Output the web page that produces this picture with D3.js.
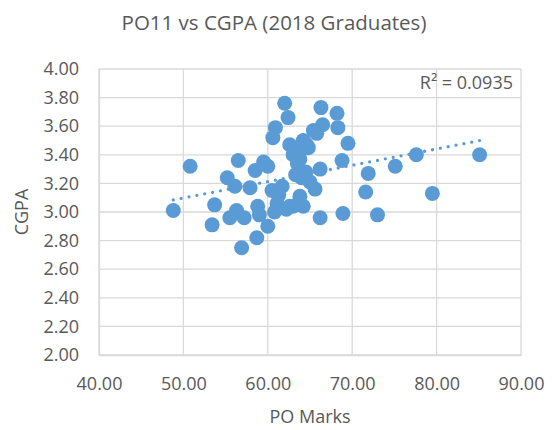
<!DOCTYPE html>
<html>
<head>
<meta charset="utf-8">
<script src="https://cdn.jsdelivr.net/npm/d3@7"></script>
<style>
  body { margin: 0; background: #fff; }
  text { font-family: "Open Sans", sans-serif; fill: #595959; }
</style>
</head>
<body>
<div id="scatter"></div>
<script>
// chart values
var poMarks = [48.8, 50.8, 53.7, 53.4, 55.2, 56.1, 56.5, 56.3, 55.5, 57.2,
  57.9, 58.5, 59.5, 60.0, 58.8, 59.0, 60.0, 58.7, 56.9, 60.5,
  61.7, 61.1, 62.6, 63.8, 64.2, 63.0, 62.0, 62.4, 60.9, 60.6,
  62.6, 63.8, 64.2, 65.4, 66.5, 66.3, 68.2, 68.3, 69.5, 68.8,
  66.2, 63.5, 63.3, 65.0, 65.6, 66.2, 68.9, 71.9, 75.1, 77.6,
  85.1, 71.6, 79.5, 73.0, 63.8, 63.0, 64.6, 64.0, 61.3, 62.2, 60.8,
  64.8, 65.8, 64.5];
var cgpa = [3.01, 3.32, 3.05, 2.91, 3.24, 3.18, 3.36, 3.01, 2.96, 2.96,
  3.17, 3.29, 3.35, 3.32, 3.04, 2.98, 2.90, 2.82, 2.75, 3.15,
  3.18, 3.06, 3.04, 3.11, 3.04, 3.04, 3.76, 3.66, 3.59, 3.52,
  3.47, 3.43, 3.50, 3.57, 3.61, 3.73, 3.69, 3.59, 3.48, 3.36,
  3.30, 3.34, 3.26, 3.21, 3.16, 2.96, 2.99, 3.27, 3.32, 3.40,
  3.40, 3.14, 3.13, 2.98, 3.37, 3.40, 3.47, 3.24, 3.12, 3.02, 3.00,
  3.45, 3.55, 3.28];
var xTicks = [40, 50, 60, 70, 80, 90];
var yTicks = [2.0, 2.2, 2.4, 2.6, 2.8, 3.0, 3.2, 3.4, 3.6, 3.8, 4.0];
var rSquaredLabel = "R\u00B2 = 0.0935";

var svgWidth = 554;
var svgHeight = 430;

var margin = { top: 69, bottom: 75, left: 99, right: 33 };
var width = svgWidth - margin.left - margin.right;
var height = svgHeight - margin.top - margin.bottom;

var svg = d3.select("#scatter")
  .append("svg")
  .attr("width", svgWidth)
  .attr("height", svgHeight);

var chartGroup = svg.append("g")
  .attr("transform", `translate(${margin.left}, ${margin.top})`);

var points = poMarks.map((x, i) => ({ x: x, y: cgpa[i] }));

var xScale = d3.scaleLinear().domain([40, 90]).range([0, width]);
var yScale = d3.scaleLinear().domain([2, 4]).range([height, 0]);

// gridlines
chartGroup.append("g")
  .selectAll("line")
  .data(yTicks)
  .enter()
  .append("line")
  .attr("x1", 0).attr("x2", width)
  .attr("y1", d => yScale(d)).attr("y2", d => yScale(d))
  .attr("stroke", "#d9d9d9").attr("stroke-width", 1.3);

chartGroup.append("g")
  .selectAll("line")
  .data(xTicks)
  .enter()
  .append("line")
  .attr("x1", d => xScale(d)).attr("x2", d => xScale(d))
  .attr("y1", 0).attr("y2", height)
  .attr("stroke", "#d9d9d9").attr("stroke-width", 1.3);

// axes, labels only
var xAxis = d3.axisBottom(xScale).tickValues(xTicks).tickSize(0).tickPadding(22)
  .tickFormat(d3.format(".2f"));
var yAxis = d3.axisLeft(yScale).tickValues(yTicks).tickSize(0).tickPadding(20)
  .tickFormat(d3.format(".2f"));

chartGroup.append("g")
  .attr("transform", `translate(0, ${height})`)
  .call(xAxis)
  .call(g => g.select(".domain").attr("stroke", "#d9d9d9").attr("stroke-width", 1.3))
  .selectAll("text").attr("font-size", "18px").attr("fill", "#595959")
  .attr("font-family", "Open Sans");

chartGroup.append("g")
  .call(yAxis)
  .call(g => g.select(".domain").attr("stroke", "#d9d9d9").attr("stroke-width", 1.3))
  .selectAll("text").attr("font-size", "18px").attr("fill", "#595959")
  .attr("font-family", "Open Sans");

// points
chartGroup.append("g")
  .selectAll("circle")
  .data(points)
  .enter()
  .append("circle")
  .attr("cx", d => xScale(d.x))
  .attr("cy", d => yScale(d.y))
  .attr("r", 7.5)
  .attr("fill", "#5b9bd5");

// linear trendline from the points
var mx = d3.mean(points, d => d.x);
var my = d3.mean(points, d => d.y);
var slope = d3.sum(points, d => (d.x - mx) * (d.y - my)) / d3.sum(points, d => (d.x - mx) * (d.x - mx));
var intercept = my - slope * mx;
var xExtent = d3.extent(points, d => d.x);

chartGroup.append("path")
  .datum(xExtent)
  .attr("d", d3.line().x(d => xScale(d)).y(d => yScale(intercept + slope * d)))
  .attr("fill", "none")
  .attr("stroke", "#5b9bd5")
  .attr("stroke-width", 3.3)
  .attr("stroke-linecap", "round")
  .attr("stroke-dasharray", "0 8");

chartGroup.append("text")
  .attr("x", width - 8)
  .attr("y", 20)
  .attr("text-anchor", "end")
  .attr("font-size", "18px")
  .text(rSquaredLabel);

// titles
svg.append("text")
  .attr("x", 274)
  .attr("y", 30)
  .attr("text-anchor", "middle")
  .attr("font-size", "20.5px")
  .text("PO11 vs CGPA (2018 Graduates)");

svg.append("text")
  .attr("x", margin.left + width / 2)
  .attr("y", 423)
  .attr("text-anchor", "middle")
  .attr("font-size", "18px")
  .text("PO Marks");

svg.append("text")
  .attr("transform", `translate(28, ${margin.top + height / 2}) rotate(-90)`)
  .attr("text-anchor", "middle")
  .attr("font-size", "18px")
  .text("CGPA");
</script>
</body>
</html>
